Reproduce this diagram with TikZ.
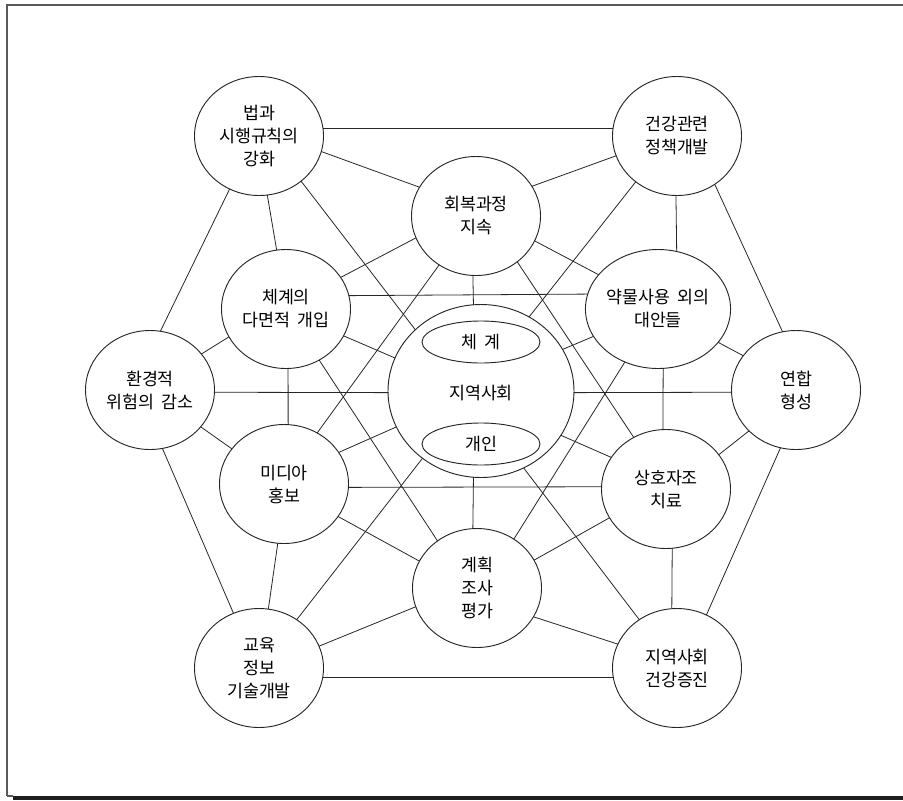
\documentclass[tikz,border=0pt]{standalone}
\usepackage{fontspec}
\setmainfont{Noto Sans CJK KR}
\usetikzlibrary{shapes.geometric}
\newcommand{\wsp}{\hspace{0.4em}}
\begin{document}
\begin{tikzpicture}[x=0.75pt,y=-0.75pt,
  bub/.style={ellipse, draw=black!85, line width=0.7pt, minimum width=96.75pt, minimum height=89.25pt,
    inner sep=0pt, outer sep=0pt, align=center, font=\fontsize{13pt}{17.25pt}\selectfont},
  hub/.style={ellipse, draw=black!85, line width=0.7pt, minimum width=139.5pt, minimum height=129.75pt,
    inner sep=0pt, outer sep=0pt},
  subel/.style={ellipse, draw=black!85, line width=0.7pt, minimum width=88.5pt, minimum height=31.5pt,
    inner sep=0pt, outer sep=0pt, font=\fontsize{13pt}{17.25pt}\selectfont},
  txt/.style={inner sep=0pt, font=\fontsize{13pt}{17.25pt}\selectfont},
  link/.style={draw=black!85, line width=0.6pt}]
\useasboundingbox (0,0) rectangle (903,800);
% frame
\draw[black!65, line width=1.1pt] (7,796) -- (7,5) -- (903,5);
\fill[black!88] (13,796) rectangle (903,800);
\draw[black!65, line width=0.8pt] (7,796) -- (13,796);

% nodes
\node[bub] (law) at (259,136) {법과\\시행규칙의\\강화};
\node[bub] (policy) at (677,136) {건강관련\\정책개발};
\node[bub] (rec) at (476,216) {회복과정\\지속};
\node[bub] (multi) at (286,309) {체계의\\다면적\wsp 개입};
\node[bub] (alt) at (658,309) {약물사용\wsp 외의\\대안들};
\node[bub] (env) at (150,390) {환경적\\위험의\wsp 감소};
\node[bub] (coal) at (796,390) {연합\\형성};
\node[hub] (hub) at (481,391) {};
\node[txt] (hubtext) at (481,393) {지역사회};
\node[subel] (sys) at (481,342) {체\wsp 계};
\node[subel] (ind) at (481,444) {개인};
\node[bub] (media) at (284,484) {미디아\\홍보};
\node[bub] (self) at (666,489) {상호자조\\치료};
\node[bub] (plan) at (477,588) {계획\\조사\\평가};
\node[bub] (edu) at (259,668) {교육\\정보\\기술개발};
\node[bub] (promo) at (677,668) {지역사회\\건강증진};

% outer ring
\draw[link] (law.7) -- (policy.173);
\draw[link] (policy.-52) -- (coal.103);
\draw[link] (coal.255) -- (promo.61);
\draw[link] (promo.188) -- (edu.-8);
\draw[link] (edu.115) -- (env.-78);
\draw[link] (env.80) -- (law.-119);
% outer to inner
\draw[link] (law.-14) -- (rec.153);
\draw[link] (law.-82) -- (multi.99);
\draw[link] (policy.198) -- (rec.28);
\draw[link] (policy.-91) -- (alt.72);
\draw[link] (coal.147) -- (alt.-29);
\draw[link] (coal.221) -- (self.33);
\draw[link] (promo.95) -- (self.-84);
\draw[link] (promo.158) -- (plan.-27);
\draw[link] (edu.20) -- (plan.197);
\draw[link] (edu.81) -- (media.-96);
\draw[link] (env.-36) -- (media.146);
\draw[link] (env.35) -- (multi.206);
% outer to hub
\draw[link] (law.-47) -- (hub.137);
\draw[link] (policy.228) -- (hub.57);
\draw[link] (coal.182) -- (hub.-1);
\draw[link] (promo.128) -- (hub.-61);
\draw[link] (edu.52) -- (hub.229);
\draw[link] (env.-2) -- (hub.181);
% inner ring
\draw[link] (rec.200) -- (multi.30);
\draw[link] (rec.-23) -- (alt.150);
\draw[link] (alt.-85) -- (self.93);
\draw[link] (self.207) -- (plan.26);
\draw[link] (plan.155) -- (media.-31);
\draw[link] (media.86) -- (multi.-88);
% inner to hub
\draw[link] (rec.-93) -- (hub.95);
\draw[link] (plan.94) -- (hub.265);
\draw[link] (multi.-25) -- (hub.159);
\draw[link] (media.30) -- (hub.203);
\draw[link] (alt.203) -- (hub.27);
\draw[link] (self.150) -- (hub.-29);
% inner across
\draw[link] (multi.12) -- (alt.168);
\draw[link] (media.-3) -- (self.178);
\draw[link] (rec.-48) -- (self.122);
\draw[link] (rec.233) -- (media.57);
\draw[link] (multi.-57) -- (plan.130);
\draw[link] (alt.238) -- (plan.53);
\end{tikzpicture}
\end{document}
